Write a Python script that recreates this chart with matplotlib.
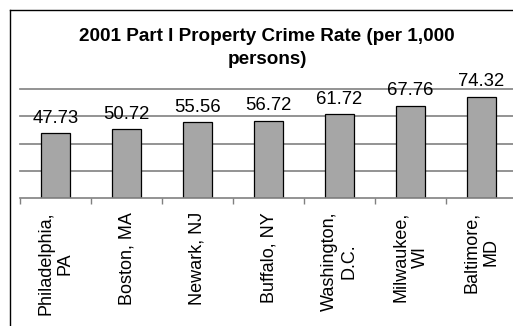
import matplotlib
matplotlib.use("Agg")
import matplotlib.pyplot as plt
from matplotlib.lines import Line2D
import numpy as np

# data
cities = ["Philadelphia,\nPA", "Boston, MA", "Newark, NJ", "Buffalo, NY",
          "Washington,\nD.C.", "Milwaukee,\nWI", "Baltimore,\nMD"]
rates = [47.73, 50.72, 55.56, 56.72, 61.72, 67.76, 74.32]
grid_vals = [20, 40, 60, 80]

plt.rcParams["font.family"] = ["Liberation Sans", "DejaVu Sans"]

W, H = 513, 326
fig = plt.figure(figsize=(W / 100, H / 100), dpi=100)
fig.patch.set_facecolor("white")

# plot area: x 20..517 px, y 89..198 px (from top)
ax = fig.add_axes([20 / W, (H - 198) / H, 497 / W, 109 / H])
ax.set_facecolor("white")

x = np.arange(len(rates))
ax.bar(x, rates, width=0.41, color="#a6a6a6", edgecolor="black", linewidth=0.9, zorder=3)

for xi, v in zip(x, rates):
    ax.annotate(f"{v:.2f}", (xi, v), xytext=(0, 4.5), textcoords="offset points",
                ha="center", va="bottom", fontsize=13.3, zorder=5, clip_on=False)

ax.set_xlim(-0.5, len(rates) - 0.5)
ax.set_ylim(0, 80)
for g in grid_vals:
    ax.axhline(g, color="#808080", linewidth=1.2, zorder=1, clip_on=False)

for s in ["left", "right", "top"]:
    ax.spines[s].set_visible(False)
ax.spines["bottom"].set_color("#808080")
ax.spines["bottom"].set_linewidth(1.2)
ax.spines["bottom"].set_zorder(4)

ax.set_yticks([])
ax.set_xticks(np.arange(len(rates) + 1) - 0.5)
ax.set_xticklabels([])
ax.tick_params(axis="x", which="major", direction="out", length=4.5, width=1.0, color="#808080")
ax.set_xticks(x, minor=True)
ax.set_xticklabels(cities, minor=True, rotation=90, ha="center", va="top",
                   multialignment="center", fontsize=13, linespacing=1.2)
ax.tick_params(axis="x", which="minor", length=0, pad=10)

fig.text(267 / W, 1 - 48 / H, "2001 Part I Property Crime Rate (per 1,000\npersons)",
         ha="center", va="center", fontsize=13.6, fontweight="bold", linespacing=1.4)

# chart border (only left and top show in the crop)
fig.add_artist(Line2D([10 / W, 10 / W], [0, 1 - 10 / H], color="black", linewidth=1.0))
fig.add_artist(Line2D([10 / W, 1], [1 - 10 / H, 1 - 10 / H], color="black", linewidth=1.0))

fig.savefig("out.png", dpi=100)
